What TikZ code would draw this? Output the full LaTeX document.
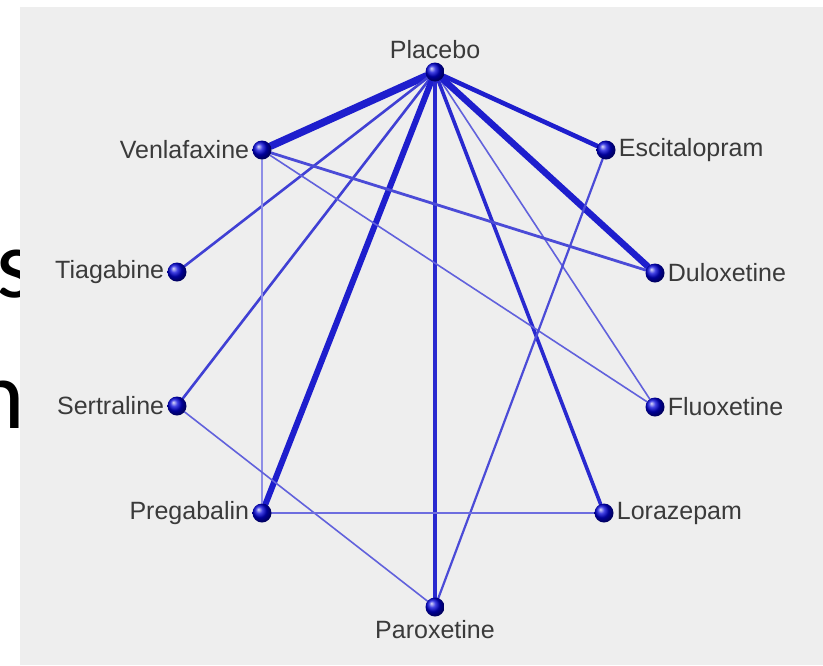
\documentclass[tikz,border=0pt]{standalone}
\usepackage{fontspec}
\setmainfont{Liberation Sans}
\newfontfamily\slidefont{Carlito}
\usetikzlibrary{positioning,backgrounds}

\definecolor{netblue}{RGB}{30,30,205}
\definecolor{panelgray}{RGB}{238,238,238}
\definecolor{labelgray}{RGB}{58,58,58}

\tikzset{
  drug/.style={circle,inner sep=0pt,minimum size=19pt,ball color=blue!85!black},
  drugname/.style={font=\fontsize{25}{25}\selectfont,text=labelgray,inner sep=3pt},
  link/.style={draw=netblue,line cap=round},
  bigletter/.style={anchor=base west,inner sep=0pt,font=\slidefont\fontsize{98}{98}\selectfont}
}

\begin{document}
\begin{tikzpicture}[x=1pt,y=-1pt]
\useasboundingbox (0,0) rectangle (823,665);

% the drugs of the network
\def\nodesleft{ven/262/150/Venlafaxine,tia/177/272/Tiagabine,ser/177/406/Sertraline,pre/262/513/Pregabalin}
\def\nodesright{esc/606/150/Escitalopram,dul/655/273/Duloxetine,flu/655/407/Fluoxetine,lor/604/513/Lorazepam}
\foreach \n / \x / \y / \name in \nodesleft
  \node [drug,label={[drugname]left:\name}] (\n) at (\x,\y) {};
\foreach \n / \x / \y / \name in \nodesright
  \node [drug,label={[drugname]right:\name}] (\n) at (\x,\y) {};
\node [drug,label={[drugname]above:Placebo}] (pla) at (435,72) {};
\node [drug,label={[drugname]below:Paroxetine}] (par) at (435,607) {};

\begin{scope}[on background layer]
\node [bigletter] (lets) at (-4,297) {s};
\node [bigletter] (letn) at (-27,428) {n};
\fill [panelgray] (20,7) rectangle (823,665);

% comparisons, width = amount of evidence
\foreach \a / \b / \w / \c in {pla/ven/7.5/100,pla/tia/2.6/85,pla/ser/2.6/85,pla/pre/6/100,
    pla/par/3.6/95,pla/lor/3.6/95,pla/flu/1.6/70,pla/dul/6.5/100,pla/esc/4.6/100,
    ven/dul/2.8/80,ven/flu/1.6/70,ven/pre/1.2/50,esc/par/2.2/80,ser/par/1.6/70,pre/lor/2.8/65}
  \draw [link,draw=netblue!\c,line width=\w] (\a) -- (\b);
\end{scope}

\end{tikzpicture}
\end{document}
